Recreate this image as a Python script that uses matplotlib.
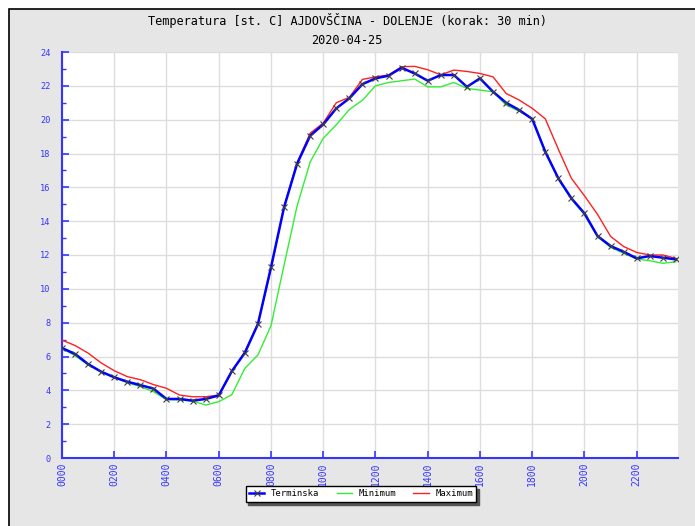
import matplotlib
matplotlib.use("Agg")
import matplotlib.pyplot as plt
from matplotlib.patches import Rectangle
import numpy as np

# ---- data (30-min steps, 00:00 .. 23:30) ----
hours = [i * 0.5 for i in range(48)]
terminska = [6.5, 6.15, 5.55, 5.1, 4.77, 4.51, 4.31, 4.1, 3.49, 3.49, 3.39, 3.49,
             3.7, 5.13, 6.22, 7.92, 11.27, 14.82, 17.4, 19.05, 19.72, 20.67, 21.26, 22.1,
             22.44, 22.6, 23.07, 22.73, 22.3, 22.64, 22.64, 21.94, 22.44, 21.65, 21.0, 20.57,
             20.04, 18.1, 16.53, 15.35, 14.46, 13.12, 12.53, 12.19, 11.8, 11.94, 11.84, 11.74]
minimum = [6.48, 6.05, 5.5, 5.1, 4.77, 4.45, 4.22, 3.92, 3.45, 3.43, 3.37, 3.13,
           3.33, 3.74, 5.3, 6.09, 7.82, 11.4, 14.9, 17.5, 18.9, 19.7, 20.6, 21.15,
           22.0, 22.2, 22.3, 22.4, 21.94, 21.94, 22.2, 21.85, 21.75, 21.65, 20.86, 20.5,
           20.05, 18.15, 16.5, 15.3, 14.38, 13.08, 12.45, 12.1, 11.76, 11.66, 11.51, 11.6]
maximum = [6.97, 6.65, 6.2, 5.62, 5.16, 4.81, 4.63, 4.34, 4.12, 3.72, 3.62, 3.62,
           3.72, 5.1, 6.28, 7.92, 11.2, 14.85, 17.45, 19.2, 19.8, 21.0, 21.32, 22.38,
           22.53, 22.64, 23.13, 23.15, 22.95, 22.65, 22.93, 22.85, 22.73, 22.53, 21.55, 21.16,
           20.67, 20.05, 18.25, 16.53, 15.5, 14.4, 13.1, 12.5, 12.15, 12.0, 12.0, 11.8]
xtick_hours = list(range(0, 24, 2))
xtick_labels = ["%02d00" % h for h in xtick_hours]
ytick_values = list(range(0, 25, 2))
title1 = "Temperatura [st. C] AJDOVŠČINA - DOLENJE (korak: 30 min)"
title2 = "2020-04-25"

W, H = 695, 526
fig = plt.figure(figsize=(W / 100, H / 100), dpi=100)
fig.patch.set_facecolor("white")

# gray panel with black frame
fig.patches.append(Rectangle((9 / W, -0.05), 1.2, 1 - 9 / H + 0.05,
                             transform=fig.transFigure, facecolor="#e6e6e6",
                             edgecolor="black", linewidth=1.2, zorder=-5))

mono = "DejaVu Sans Mono"
fig.text(347 / W, 1 - 20 / H, title1, ha="center", va="center",
         fontsize=8.6, family=mono, color="black")
fig.text(347 / W, 1 - 40 / H, title2, ha="center", va="center",
         fontsize=8.6, family=mono, color="black")

ax = fig.add_axes([62 / W, (H - 458) / H, 616 / W, 406 / H])
ax.set_zorder(2)
ax.set_facecolor("white")
blue = "#3535ff"

ax.plot(hours, minimum, color="#33ee33", lw=1.0, label="Minimum", zorder=3)
ax.plot(hours, maximum, color="#ff2020", lw=1.0, label="Maximum", zorder=4)
ax.plot(hours, terminska, color="#0000ff", lw=1.8, marker="x", ms=4.5,
        mec="#404040", mew=0.8, label="Terminska", zorder=5)

ax.set_xlim(0, 23.58)
ax.set_ylim(0, 24)
ax.set_xticks(xtick_hours)
ax.set_xticklabels(xtick_labels, rotation=90, family=mono, fontsize=7.0, color=blue)
ax.set_yticks(ytick_values)
ax.set_yticklabels([str(v) for v in ytick_values], family=mono, fontsize=6.2, color=blue)
ax.set_yticks(list(range(1, 24, 2)), minor=True)
ax.tick_params(axis="both", which="major", direction="in", color=blue, length=5, width=1.2, pad=3)
ax.tick_params(axis="y", which="minor", direction="in", color=blue, length=3, width=1.0)
ax.tick_params(axis="y", which="major", pad=8)

ax.grid(True, which="major", color="#dddddd", lw=1.0, zorder=0)
ax.set_axisbelow(True)
for s in ["top", "right"]:
    ax.spines[s].set_visible(False)
for s in ["left", "bottom"]:
    ax.spines[s].set_color(blue)
    ax.spines[s].set_linewidth(1.5)

handles, labels = ax.get_legend_handles_labels()
order = [2, 0, 1]
leg = fig.legend([handles[i] for i in order], [labels[i] for i in order],
                 loc="center", bbox_to_anchor=(361 / W, 1 - 494 / H), ncol=3,
                 frameon=True, fancybox=False, shadow={"color": "#555555", "alpha": 1},
                 prop={"family": mono, "size": 6.4}, handlelength=1.7,
                 columnspacing=1.95, borderpad=0.4, handletextpad=0.75)
leg.get_frame().set_edgecolor("black")
leg.get_frame().set_linewidth(1.0)
leg.set_zorder(5)

fig.savefig("out.png", dpi=100)
